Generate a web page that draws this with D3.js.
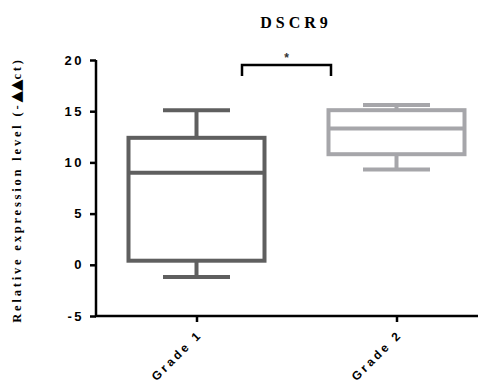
<!DOCTYPE html>
<html><head><meta charset="utf-8">
<script src="https://cdn.jsdelivr.net/npm/d3@7"></script>
<style>body{margin:0;background:#fff}</style>
</head><body>
<svg id="c" width="488" height="387"></svg>
<script>
const categories = ["Grade 1", "Grade 2"];
const whiskerLow = [-1.2, 9.3];
const q1 = [0.4, 10.8];
const median = [9.0, 13.3];
const q3 = [12.4, 15.1];
const whiskerHigh = [15.1, 15.6];
const boxColors = ["#5f5f5f", "#a6a6aa"];
const yTicks = [-5, 0, 5, 10, 15, 20];
const sigLevel = 19.5;
const sigLabel = "*";

const svg = d3.select("#c");
const m = {l: 96, r: 478, t: 60, b: 316};
const y = d3.scaleLinear().domain([-5, 20]).range([m.b, m.t]);
const x = d3.scalePoint().domain(categories).range([196.5, 396.5]);

// title
svg.append("text").attr("x", 296).attr("y", 28).attr("text-anchor", "middle")
  .attr("font-family", "Liberation Serif").attr("font-weight", "bold").attr("font-size", 16)
  .attr("letter-spacing", "4px").text("DSCR9");

// y axis
const ya = svg.append("g").attr("transform", `translate(${m.l},0)`)
  .call(d3.axisLeft(y).tickValues(yTicks).tickFormat(d => String(d)).tickSize(6).tickPadding(6));
ya.select(".domain").attr("stroke", "#000").attr("stroke-width", 2.5).attr("d", `M0,${m.t}V${m.b}`);
ya.selectAll(".tick line").attr("stroke", "#000").attr("stroke-width", 2.5);
ya.selectAll(".tick text").attr("font-family", "Liberation Sans").attr("font-weight", "bold")
  .attr("font-size", 13).attr("letter-spacing", "2.5px").attr("fill", "#000");

// x axis
const xa = svg.append("g").attr("transform", `translate(0,${m.b})`)
  .call(d3.axisBottom(x).tickSize(6).tickPadding(4));
xa.select(".domain").attr("stroke", "#000").attr("stroke-width", 2.5).attr("d", `M${m.l - 1},0H${m.r}`);
xa.selectAll(".tick line").attr("stroke", "#000").attr("stroke-width", 2.5);
xa.selectAll(".tick text").attr("font-family", "Liberation Sans").attr("font-weight", "bold")
  .attr("font-size", 12).attr("letter-spacing", "3px").attr("fill", "#000")
  .attr("text-anchor", "end").attr("dy", "0.35em")
  .attr("transform", "translate(-4,9) rotate(-45)");

// y label
const yl = svg.append("text").attr("transform", "translate(21,190) rotate(-90)").attr("text-anchor", "middle")
  .attr("font-family", "Liberation Serif").attr("font-weight", "bold").attr("font-size", 12.5)
  .attr("letter-spacing", "2.8px");
yl.append("tspan").text("Relative expression level (-");
yl.append("tspan").attr("font-family", "DejaVu Sans").attr("font-size", 15).attr("letter-spacing", "0px").text("▲▲");
yl.append("tspan").text("ct)");

// boxes
const boxW = 136, capW = 67, sw = 4;
categories.forEach((c, i) => {
  const cx = x(c), col = boxColors[i];
  const g = svg.append("g").attr("stroke", col).attr("stroke-width", sw).attr("fill", "none");
  g.append("rect").attr("x", cx - boxW / 2).attr("y", y(q3[i])).attr("width", boxW)
    .attr("height", y(q1[i]) - y(q3[i]));
  g.append("line").attr("x1", cx - boxW / 2).attr("x2", cx + boxW / 2).attr("y1", y(median[i])).attr("y2", y(median[i]));
  g.append("line").attr("x1", cx).attr("x2", cx).attr("y1", y(q3[i])).attr("y2", y(whiskerHigh[i]));
  g.append("line").attr("x1", cx).attr("x2", cx).attr("y1", y(q1[i])).attr("y2", y(whiskerLow[i]));
  g.append("line").attr("x1", cx - capW / 2).attr("x2", cx + capW / 2).attr("y1", y(whiskerHigh[i])).attr("y2", y(whiskerHigh[i]));
  g.append("line").attr("x1", cx - capW / 2).attr("x2", cx + capW / 2).attr("y1", y(whiskerLow[i])).attr("y2", y(whiskerLow[i]));
});

// significance bracket
const bx1 = 242, bx2 = 331, by = y(sigLevel);
svg.append("path").attr("d", `M${bx1},${by + 11}V${by}H${bx2}V${by + 11}`)
  .attr("fill", "none").attr("stroke", "#000").attr("stroke-width", 2.5);
svg.append("text").attr("x", (bx1 + bx2) / 2).attr("y", by - 3).attr("text-anchor", "middle")
  .attr("font-family", "Liberation Sans").attr("font-weight", "bold").attr("font-size", 12).attr("fill", "#333").text(sigLabel);
</script>
</body></html>
